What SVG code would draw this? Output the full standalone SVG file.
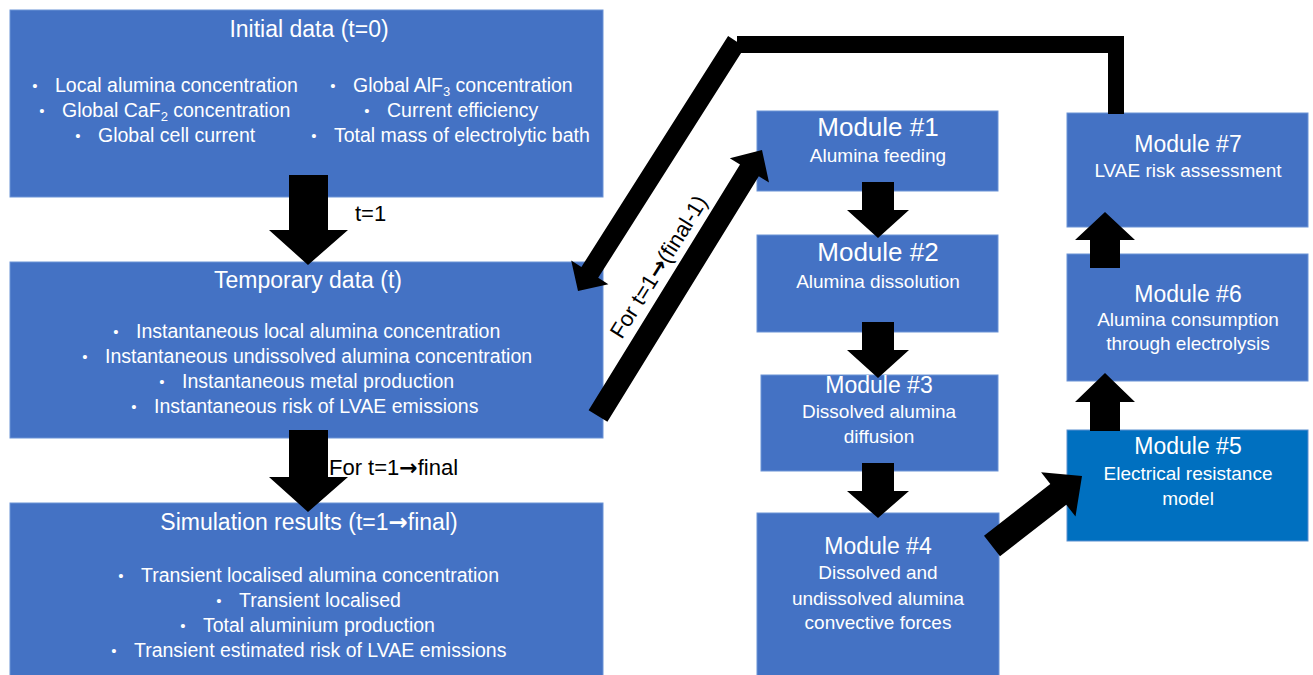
<svg xmlns="http://www.w3.org/2000/svg" width="1313" height="675" viewBox="0 0 1313 675">
<style>
.box{fill:#4472C4;stroke:#6b93d6;stroke-width:1}
.box5{fill:#0070C0;stroke:#5a8fd0;stroke-width:1}
.t{font-family:"Liberation Sans",Arial,sans-serif;fill:#fff}
.title{font-size:23px;text-anchor:middle}
.body{font-size:19.5px}
.bul{font-size:15px;text-anchor:middle}
.mt{font-size:23px;text-anchor:middle}
.mt2{font-size:26px;text-anchor:middle}
.ms{font-size:19px;text-anchor:middle}
.lab{font-family:"Liberation Sans",Arial,sans-serif;font-size:22px;fill:#000}
.ar{font-family:"DejaVu Sans",sans-serif;font-weight:bold}
.arr{fill:#000}
</style>
<rect width="1313" height="675" fill="#fff"/>

<g id="node-initial">
<rect class="box" x="10" y="10" width="593" height="187"/>
<text class="t title" x="309" y="37">Initial data (t=0)</text>
<text class="t bul" x="35" y="91">•</text><text class="t body" x="55" y="92">Local alumina concentration</text>
<text class="t bul" x="42" y="116">•</text><text class="t body" x="62" y="117">Global CaF<tspan font-size="13" dy="4">2</tspan><tspan dy="-4"> concentration</tspan></text>
<text class="t bul" x="78" y="141">•</text><text class="t body" x="98" y="142">Global cell current</text>
<text class="t bul" x="333" y="91">•</text><text class="t body" x="353" y="92">Global AlF<tspan font-size="13" dy="4">3</tspan><tspan dy="-4"> concentration</tspan></text>
<text class="t bul" x="367" y="116">•</text><text class="t body" x="387" y="117">Current efficiency</text>
<text class="t bul" x="314" y="141">•</text><text class="t body" x="334" y="142">Total mass of electrolytic bath</text>
</g>

<g id="node-temporary">
<rect class="box" x="10" y="262" width="593" height="176"/>
<text class="t title" x="308" y="288">Temporary data (t)</text>
<text class="t bul" x="116" y="337">•</text><text class="t body" x="136" y="338">Instantaneous local alumina concentration</text>
<text class="t bul" x="85" y="362">•</text><text class="t body" x="105" y="363">Instantaneous undissolved alumina concentration</text>
<text class="t bul" x="162" y="387">•</text><text class="t body" x="182" y="388">Instantaneous metal production</text>
<text class="t bul" x="134" y="412">•</text><text class="t body" x="154" y="413">Instantaneous risk of LVAE emissions</text>
</g>

<g id="node-results">
<rect class="box" x="10" y="503" width="593" height="180"/>
<text class="t title" x="309" y="530">Simulation results (t=1<tspan class="ar">→</tspan>final)</text>
<text class="t bul" x="121" y="581">•</text><text class="t body" x="141" y="582">Transient localised alumina concentration</text>
<text class="t bul" x="219" y="606">•</text><text class="t body" x="239" y="607">Transient localised</text>
<text class="t bul" x="183" y="631">•</text><text class="t body" x="203" y="632">Total aluminium production</text>
<text class="t bul" x="114" y="656">•</text><text class="t body" x="134" y="657">Transient estimated risk of LVAE  emissions</text>
</g>

<g id="node-m1">
<rect class="box" x="757" y="111" width="241" height="80"/>
<text class="t mt2" x="878" y="136">Module #1</text>
<text class="t ms" x="878" y="162">Alumina feeding</text>
</g>
<g id="node-m2">
<rect class="box" x="757" y="235" width="241" height="97"/>
<text class="t mt2" x="878" y="261">Module #2</text>
<text class="t ms" x="878" y="288">Alumina dissolution</text>
</g>
<g id="node-m3">
<rect class="box" x="761" y="375" width="237" height="96"/>
<text class="t mt" x="879" y="393">Module #3</text>
<text class="t ms" x="879" y="418">Dissolved alumina</text>
<text class="t ms" x="879" y="443">diffusion</text>
</g>
<g id="node-m4">
<rect class="box" x="757" y="513" width="242" height="170"/>
<text class="t mt" x="878" y="554">Module #4</text>
<text class="t ms" x="878" y="579">Dissolved and</text>
<text class="t ms" x="878" y="605">undissolved alumina</text>
<text class="t ms" x="878" y="629">convective forces</text>
</g>
<g id="node-m5">
<rect class="box5" x="1067" y="430" width="241" height="111"/>
<text class="t mt" x="1188" y="454">Module #5</text>
<text class="t ms" x="1188" y="480">Electrical resistance</text>
<text class="t ms" x="1188" y="505">model</text>
</g>
<g id="node-m6">
<rect class="box" x="1067" y="254" width="241" height="127"/>
<text class="t mt" x="1188" y="302">Module #6</text>
<text class="t ms" x="1188" y="326">Alumina consumption</text>
<text class="t ms" x="1188" y="350">through electrolysis</text>
</g>
<g id="node-m7">
<rect class="box" x="1067" y="113" width="241" height="114"/>
<text class="t mt" x="1188" y="152">Module #7</text>
<text class="t ms" x="1188" y="177">LVAE risk assessment</text>
</g>

<g id="connectors">
<polygon class="arr" points="289,175 328,175 328,230 348,230 308,265 269,230 289,230"/>
<text class="lab" x="355" y="221">t=1</text>
<polygon class="arr" points="289,430 328,430 328,477 348,477 308,512 269,477 289,477"/>
<text class="lab" x="329" y="475">For t=1<tspan class="ar">→</tspan>final</text>

<rect class="arr" x="737" y="36" width="387" height="17"/>
<rect class="arr" x="1108" y="36" width="16" height="78"/>
<polygon class="arr" points="744.9,46.9 598.2,277.8 608.4,284.2 578,291 571.2,260.6 581.4,267.0 728.1,36.1"/>

<polygon class="arr" points="607.4,421.8 758.8,176.2 769.0,182.5 762,150 729.8,158.3 740.0,164.6 588.6,410.2"/>
<text class="lab" transform="translate(659,267) rotate(-58)" x="0" y="7" text-anchor="middle">For t=1<tspan class="ar">→</tspan>(final-1)</text>

<polygon class="arr" points="862,182 894,182 894,210 909,210 878,238 847,210 862,210"/>
<polygon class="arr" points="862,322 894,322 894,350 909,350 878,378 847,350 862,350"/>
<polygon class="arr" points="862,463 894,463 894,491 909,491 878,518 847,491 862,491"/>

<polygon class="arr" points="1000.0,556.3 1066.3,504.7 1075.5,516.5 1082,476 1041.1,472.3 1050.3,484.1 984.0,535.7"/>

<polygon class="arr" points="1090,431 1120,431 1120,402 1135,402 1105,373 1075,402 1090,402"/>
<polygon class="arr" points="1090,268 1120,268 1120,240 1135,240 1105,212 1075,240 1090,240"/>
</g>
</svg>
